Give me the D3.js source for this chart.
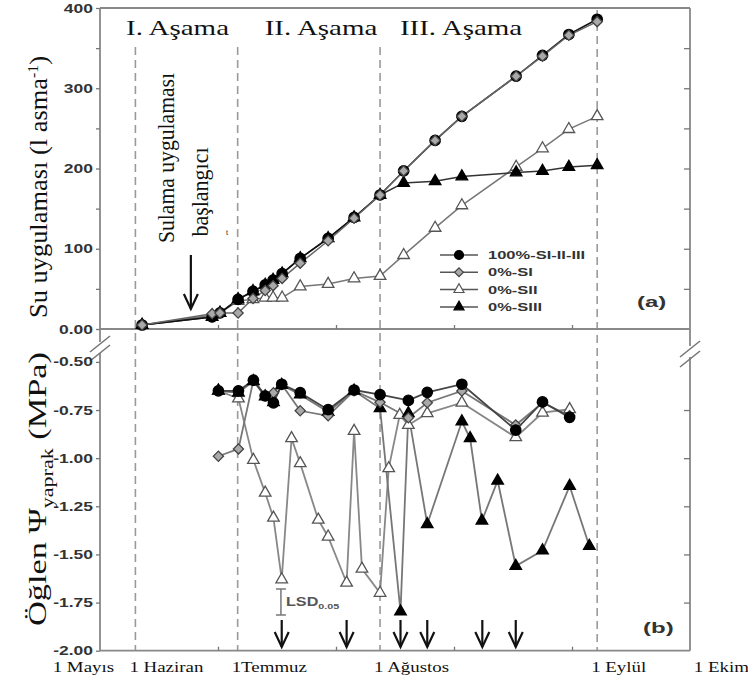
<!DOCTYPE html>
<html lang='tr'>
<head>
  <meta charset="utf-8" />
  <title>Su uygulaması ve öğlen yaprak su potansiyeli</title>
  <script src="https://d3js.org/d3.v7.min.js"></script>
  <style>
    body { margin: 0; background: #fff; }
    svg { display: block; }
    .serif { font-family: "Liberation Serif", "Times New Roman", serif; fill: #111; }
    .sans { font-family: "Liberation Sans", Arial, sans-serif; font-weight: bold; fill: #333; }
  </style>
</head>
<body>
<script>
// ---- data ----
var seriesNames = ["100%-SI-II-III", "0%-SI", "0%-SII", "0%-SIII"];
var stages = ["I. Aşama", "II. Aşama", "III. Aşama"];
var months = ["1 Mayıs", "1 Haziran", "1Temmuz", "1 Ağustos", "1 Eylül", "1 Ekim"];
var monthDays = [-10.5, 9, 35, 71.2, 126.4, 152.5];   // days from x-axis origin
var ticksA = [0, 100, 200, 300, 400];
var ticksB = [-0.5, -0.75, -1.0, -1.25, -1.5, -1.75, -2.0];

// (a) cumulative water applied, l/vine
var daysA = [10.7, 28.5, 30.5, 35.1, 38.9, 42.0, 44.0, 46.3, 50.9, 58.0, 64.6, 71.2, 77.2, 85.2, 92.0, 105.8, 112.5, 119.2, 126.4];
var fullA = [5, 15, 20, 37, 47, 55, 61, 69, 88, 113, 139, 167, 197, 235, 265, 315, 341, 367, 386];
var siA   = [5, 19, 20, 20, 38, 48, 54, 63, 82, 110, 138, 167, 197, 235, 265, 315, 340, 366, 383];
var siiA  = [5, 17, 20, 35, 37, 39, 39, 39, 53, 56, 63, 66, 92, 126, 154, 202, 225, 249, 265];
var siiiA = [5, 15, 20, 37, 47, 55, 61, 69, 88, 113, 139, 167, 182, 184, 190, 195, 197, 202, 204];

// (b) midday leaf water potential, MPa
var daysB1 = [30.1, 35.2, 39.0, 42.0, 44.1, 46.2, 50.9, 58.0, 64.6, 71.2, 78.4, 83.2, 92.0, 105.7, 112.5, 119.4];
var fullB  = [-0.65, -0.65, -0.595, -0.677, -0.713, -0.616, -0.66, -0.748, -0.646, -0.67, -0.70, -0.658, -0.616, -0.854, -0.708, -0.788];
var siB    = [-0.99, -0.952, -0.595, -0.672, -0.66, -0.617, -0.754, -0.78, -0.65, -0.71, -0.79, -0.712, -0.651, -0.828, -0.712, -0.78];
var daysB2 = [30.1, 35.2, 39.0, 42.0, 44.1, 46.2, 48.7, 50.9, 55.5, 58.0, 62.7, 64.6, 66.6, 71.2, 73.4, 76.2, 78.4, 83.2, 92.0, 105.7, 112.5, 119.4];
var siiB   = [-0.65, -0.69, -1.01, -1.18, -1.31, -1.63, -0.897, -1.027, -1.32, -1.408, -1.647, -0.859, -1.575, -1.70, -1.053, -0.776, -0.828, -0.767, -0.712, -0.892, -0.764, -0.746];
var daysB3 = [30.1, 35.2, 39.0, 42.0, 44.1, 46.2, 50.9, 58.0, 64.6, 71.2, 76.4, 78.4, 83.2, 92.0, 94.1, 97.1, 101.1, 105.7, 112.5, 119.4, 124.4];
var siiiB  = [-0.65, -0.66, -0.6, -0.68, -0.71, -0.62, -0.67, -0.76, -0.65, -0.741, -1.797, -0.767, -1.343, -0.81, -0.897, -1.325, -1.117, -1.56, -1.48, -1.145, -1.456];

var irrigationDays = [46.2, 62.7, 76.4, 83.2, 97.2, 105.7];
var startDay = 23.1;
var lsdDay = 46, lsdCenter = -1.747, lsdValue = 0.135;
var stageCenters = [19.7, 56.2, 91.8];

// ---- setup ----
var w = 748, h = 682;
var svg = d3.select("body").append("svg").attr("width", w).attr("height", h);

var x = d3.scaleLinear().domain([0, 150]).range([100, 690]);
var yA = d3.scaleLinear().domain([0, 400]).range([329, 8]);
var yB = d3.scaleLinear().domain([-2, -0.5]).range([650.7, 361.9]);

var styles = [
  {type: d3.symbolCircle, size: 85, fill: "#000", stroke: "#000", rot: 0, lineA: "#111", lineB: "#444"},
  {type: d3.symbolSquare, size: 52, fill: "#a9a9a9", stroke: "#444", rot: 45, lineA: "#666", lineB: "#777"},
  {type: d3.symbolTriangle, size: 58, fill: "#fff", stroke: "#555", rot: 0, lineA: "#777", lineB: "#888"},
  {type: d3.symbolTriangle, size: 58, fill: "#000", stroke: "#000", rot: 0, lineA: "#333", lineB: "#777"}
];

// dashed stage boundaries
[1, 2, 3, 4].forEach(function(i){
  svg.append("line")
    .attr("x1", x(monthDays[i])).attr("x2", x(monthDays[i]))
    .attr("y1", i === 4 ? 10 : 47).attr("y2", 650)
    .attr("stroke", "#9a9a9a").attr("stroke-width", 1.6)
    .attr("stroke-dasharray", "8,5");
});

// frame
var frame = svg.append("g").attr("stroke", "#888").attr("stroke-width", 1.8).attr("fill", "none");
frame.append("line").attr("x1", 100).attr("x2", 690).attr("y1", 8).attr("y2", 8);
frame.append("line").attr("x1", 100).attr("x2", 690).attr("y1", 329).attr("y2", 329);
frame.append("line").attr("x1", 100).attr("x2", 690).attr("y1", 650.7).attr("y2", 650.7);
frame.append("line").attr("x1", 100).attr("x2", 100).attr("y1", 8).attr("y2", 342);
frame.append("line").attr("x1", 100).attr("x2", 100).attr("y1", 353).attr("y2", 650.7);
frame.append("line").attr("x1", 690).attr("x2", 690).attr("y1", 8).attr("y2", 346);
frame.append("line").attr("x1", 690).attr("x2", 690).attr("y1", 357).attr("y2", 650.7);

// axis breaks
[[100, 344], [100, 353], [690, 349], [690, 359]].forEach(function(p){
  svg.append("line")
    .attr("x1", p[0] - 10).attr("y1", p[1] + 8)
    .attr("x2", p[0] + 10).attr("y2", p[1] - 8)
    .attr("stroke", "#777").attr("stroke-width", 1.6);
});

function styleAxis(g, scaleX){
  g.select(".domain").remove();
  g.selectAll("line").attr("stroke", "#777").attr("stroke-width", 1.3);
  g.selectAll("text")
    .attr("class", "sans")
    .style("font-size", "12.5px")
    .attr("transform", "scale(" + scaleX + ",1)");
}

// panel (a) axes
svg.append("g").attr("transform", "translate(100,0)")
  .call(d3.axisLeft(yA).tickValues(d3.range(0, 401, 50)).tickSize(4).tickPadding(1)
    .tickFormat(function(d){ return ticksA.indexOf(d) < 0 ? "" : (d === 0 ? "0.00" : d); }))
  .call(styleAxis, 1.4);
svg.append("g").attr("transform", "translate(690,0)")
  .call(d3.axisRight(yA).tickValues(d3.range(50, 400, 50)).tickSize(-6).tickFormat(""))
  .call(styleAxis, 1);
svg.append("g").attr("transform", "translate(0,329)")
  .call(d3.axisBottom(x).tickValues([30, 60, 90, 120]).tickSize(-4).tickFormat(""))
  .call(styleAxis, 1);

// panel (b) axes
svg.append("g").attr("transform", "translate(100,0)")
  .call(d3.axisLeft(yB).tickValues(ticksB).tickSize(4).tickPadding(1)
    .tickFormat(function(d){ return d.toFixed(2); }))
  .call(styleAxis, 1.4);
svg.append("g").attr("transform", "translate(690,0)")
  .call(d3.axisRight(yB).tickValues(ticksB.slice(1, 6)).tickSize(-6).tickFormat(""))
  .call(styleAxis, 1);
svg.append("g").attr("transform", "translate(0,650.7)")
  .call(d3.axisBottom(x).tickValues([30, 60, 90, 120]).tickSize(-4).tickFormat(""))
  .call(styleAxis, 1);

// month labels
svg.selectAll("text.month").data(months).enter().append("text")
  .attr("class", "serif month")
  .attr("transform", function(d, i){ return "translate(" + (x(monthDays[i]) - 6) + ",672) scale(1.26,1)"; })
  .style("font-size", "15px")
  .text(function(d){ return d; });

// stage titles
svg.selectAll("text.stage").data(stages).enter().append("text")
  .attr("class", "serif stage")
  .attr("text-anchor", "middle")
  .attr("transform", function(d, i){ return "translate(" + x(stageCenters[i]) + ",35) scale(1.45,1)"; })
  .style("font-size", "20px")
  .text(function(d){ return d; });

// series
function pairs(days, vals){ return days.map(function(d, i){ return [d, vals[i]]; }); }
var dataA = [pairs(daysA, fullA), pairs(daysA, siA), pairs(daysA, siiA), pairs(daysA, siiiA)];
var dataB = [pairs(daysB1, fullB), pairs(daysB1, siB), pairs(daysB2, siiB), pairs(daysB3, siiiB)];

function drawPanel(data, yScale, order, lineKey, lineWidth){
  var g = svg.append("g");
  order.forEach(function(k){
    var line = d3.line().x(function(d){ return x(d[0]); }).y(function(d){ return yScale(d[1]); });
    g.append("path").datum(data[k]).attr("d", line)
      .attr("fill", "none").attr("stroke", styles[k][lineKey]).attr("stroke-width", lineWidth);
  });
  order.forEach(function(k){
    var s = styles[k];
    g.selectAll(null).data(data[k]).enter().append("path")
      .attr("d", d3.symbol().type(s.type).size(s.size))
      .attr("transform", function(d){ return "translate(" + x(d[0]) + "," + yScale(d[1]) + ") rotate(" + s.rot + ")"; })
      .attr("fill", s.fill).attr("stroke", s.stroke).attr("stroke-width", 1.3);
  });
}
drawPanel(dataA, yA, [2, 3, 0, 1], "lineA", 1.5);
drawPanel(dataB, yB, [2, 3, 1, 0], "lineB", 1.8);

// legend
var leg = svg.append("g");
seriesNames.forEach(function(name, i){
  var ly = 255 + i * 17.3;
  var s = styles[i];
  leg.append("line").attr("x1", 440).attr("x2", 478).attr("y1", ly).attr("y2", ly)
    .attr("stroke", "#555").attr("stroke-width", 1.5);
  leg.append("path").attr("d", d3.symbol().type(s.type).size(s.size * 0.75))
    .attr("transform", "translate(459," + ly + ") rotate(" + s.rot + ")")
    .attr("fill", s.fill).attr("stroke", s.stroke).attr("stroke-width", 1.2);
  leg.append("text").attr("class", "sans")
    .attr("transform", "translate(488," + (ly + 4) + ") scale(1.5,1)")
    .style("font-size", "11px")
    .text(name);
});

// panel letters
svg.append("text").attr("class", "sans").attr("transform", "translate(637,307) scale(1.6,1)")
  .style("font-size", "15px").text("(a)");
svg.append("text").attr("class", "sans").attr("transform", "translate(643,633) scale(1.6,1)")
  .style("font-size", "15px").text("(b)");

// y axis titles
var ta = svg.append("text").attr("class", "serif")
  .attr("text-anchor", "middle")
  .attr("transform", "translate(47,187) rotate(-90)")
  .attr("textLength", 262).attr("lengthAdjust", "spacingAndGlyphs")
  .style("font-size", "25px");
ta.append("tspan").text("Su uygulaması (l asma");
ta.append("tspan").attr("dy", -9).style("font-size", "15px").text("-1");
ta.append("tspan").attr("dy", 9).text(")");

var tb = svg.append("text").attr("class", "serif")
  .attr("text-anchor", "middle")
  .attr("transform", "translate(46,489) rotate(-90)")
  .attr("textLength", 274).attr("lengthAdjust", "spacingAndGlyphs")
  .style("font-size", "25px");
tb.append("tspan").text("Öğlen Ψ");
tb.append("tspan").attr("dy", 7).style("font-size", "16px").text("yaprak");
tb.append("tspan").attr("dy", -7).text(" (MPa)");

// irrigation start annotation
svg.append("text").attr("class", "serif").attr("text-anchor", "middle")
  .attr("transform", "translate(174,158) rotate(-90)")
  .attr("textLength", 170).attr("lengthAdjust", "spacingAndGlyphs")
  .style("font-size", "24px").text("Sulama uygulaması");
svg.append("text").attr("class", "serif").attr("text-anchor", "middle")
  .attr("transform", "translate(208,192) rotate(-90)")
  .attr("textLength", 89).attr("lengthAdjust", "spacingAndGlyphs")
  .style("font-size", "23px").text("başlangıcı");
svg.append("text").attr("class", "serif").attr("x", 226).attr("y", 235)
  .style("font-size", "8px").text("t");

function arrow(cx, y0, y1){
  svg.append("line").attr("x1", cx).attr("x2", cx).attr("y1", y0).attr("y2", y1)
    .attr("stroke", "#111").attr("stroke-width", 2.2);
  svg.append("path")
    .attr("d", "M" + (cx - 7) + "," + (y1 - 15) + "L" + cx + "," + y1 + "L" + (cx + 7) + "," + (y1 - 15))
    .attr("fill", "none").attr("stroke", "#111").attr("stroke-width", 2.2);
}
arrow(x(startDay), 255, 309);
irrigationDays.forEach(function(d){ arrow(x(d), 620, 647); });

// LSD bar
var lsd = svg.append("g").attr("stroke", "#777").attr("stroke-width", 1.5);
var lx = x(lsdDay);
lsd.append("line").attr("x1", lx).attr("x2", lx)
  .attr("y1", yB(lsdCenter + lsdValue / 2)).attr("y2", yB(lsdCenter - lsdValue / 2));
lsd.append("line").attr("x1", lx - 5).attr("x2", lx + 5)
  .attr("y1", yB(lsdCenter + lsdValue / 2)).attr("y2", yB(lsdCenter + lsdValue / 2));
lsd.append("line").attr("x1", lx - 5).attr("x2", lx + 5)
  .attr("y1", yB(lsdCenter - lsdValue / 2)).attr("y2", yB(lsdCenter - lsdValue / 2));
var lt = svg.append("text").attr("class", "sans")
  .attr("transform", "translate(" + (lx + 5) + "," + (yB(lsdCenter) + 4) + ") scale(1.35,1)")
  .style("font-size", "12px").style("fill", "#555");
lt.append("tspan").text("LSD");
lt.append("tspan").attr("dy", 3).style("font-size", "8px").text("0.05");
</script>
</body>
</html>
